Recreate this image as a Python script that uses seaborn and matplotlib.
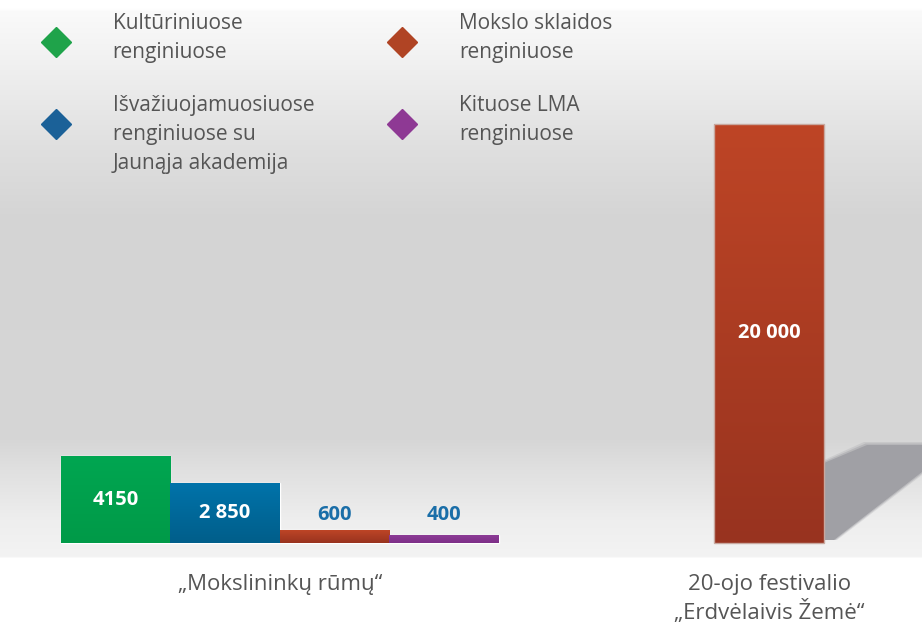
import numpy as np
import pandas as pd
import seaborn as sns
import matplotlib.pyplot as plt
from matplotlib.colors import LinearSegmentedColormap
from matplotlib.patches import Polygon
from matplotlib.lines import Line2D

# Duomenys
series = ["Kultūriniuose renginiuose",
          "Išvažiuojamuosiuose renginiuose su Jaunąja akademija",
          "Mokslo sklaidos renginiuose",
          "Kituose LMA renginiuose"]
legend_labels = ["Kultūriniuose\nrenginiuose",
                 "Išvažiuojamuosiuose\nrenginiuose su\nJaunąja akademija",
                 "Mokslo sklaidos\nrenginiuose",
                 "Kituose LMA\nrenginiuose"]
groups = ["„Mokslininkų rūmų“", "20-ojo festivalio\n„Erdvėlaivis Žemė“"]
bar_group = [0, 0, 0, 0, 1]
bar_series = [0, 1, 2, 3, 2]
bar_values = [4150, 2850, 600, 400, 20000]
value_labels = ["4150", "2 850", "600", "400", "20 000"]

# Stilius
colors = ["#00a54f", "#0070a6", "#b3401f", "#8b3a94"]
grad_top = ["#00a651", "#0073aa", "#be4526", "#8e3d98"]
grad_bot = ["#009a48", "#005e8a", "#98331f", "#7e2f88"]
legend_colors = ["#1fa34a", "#1b6198", "#b04424", "#8e3994"]
text_gray = "#555555"
value_blue = "#1a6ea8"

W, H = 922, 623
sns.set_style("white")
plt.rcParams['font.family'] = ['Open Sans', 'DejaVu Sans']

fig = plt.figure(figsize=(W / 100, H / 100), dpi=100)


def fx(px):
    return px / W


def fy(py):
    return 1 - py / H


# fonas su gradientu
bg = fig.add_axes([0, 0, 1, 1], zorder=0)
rows = np.arange(H)
keys_y = [0, 8, 11, 60, 150, 220, 440, 470, 520, 556, 558, H]
keys_v = [255, 255, 250, 241, 223, 212, 214, 224, 238, 243, 255, 255]
gray = np.interp(rows, keys_y, keys_v) / 255
bg.imshow(np.repeat(gray[:, None], 3, axis=1)[:, None, :].repeat(2, axis=1),
          aspect='auto', extent=[0, 1, 0, 1], interpolation='bilinear')
bg.set_axis_off()

ax = fig.add_axes([0, 0, 1, 1], zorder=1)
ax.patch.set_alpha(0)

# pozicijos
group_offset = [0, 5.97]
pos = []
count = {}
for g in bar_group:
    k = count.get(g, 0)
    pos.append(group_offset[g] + k)
    count[g] = k + 1

df = pd.DataFrame({"pos": pos, "value": bar_values,
                   "serie": [series[i] for i in bar_series]})

sns.barplot(data=df, x="pos", y="value", hue="serie",
            palette=dict(zip(series, colors)), hue_order=series,
            native_scale=True, dodge=False, width=1, orient="x",
            saturation=1, legend=False, ax=ax, zorder=3)

# gradientai stulpeliuose
grad = np.linspace(1, 0, 256)[:, None]
for p in list(ax.patches):
    if p.get_height() <= 0:
        continue
    xc = p.get_x() + p.get_width() / 2
    i = int(np.argmin([abs(xc - q) for q in pos]))
    s = bar_series[i]
    cmap = LinearSegmentedColormap.from_list("g", [grad_bot[s], grad_top[s]])
    im = ax.imshow(grad, cmap=cmap, aspect='auto', zorder=3.5,
                   extent=[p.get_x(), p.get_x() + p.get_width(), 0, p.get_height()])
    im.set_clip_path(p)
    if bar_values[i] > 10000:
        p.set_edgecolor("#c8a89f")
        p.set_linewidth(1.0)
        p.set_zorder(4)
        p.set_facecolor("none")

# skalė: 0 ties 543 px, 20000 ties 124 px
unit = (543 - 124) / 20000
slot = 109.5
ax.set_xlim(-115.5 / slot, (W - 115.5) / slot)
ax.set_ylim(-(H - 543) / unit, 543 / unit)
ax.set_axis_off()

# šešėlis (keli sluoksniai, kad kraštai būtų minkštesni)
for grow, alpha in [(3, 0.25), (1.5, 0.45), (0, 1.0)]:
    shadow = Polygon([(fx(824), fy(463 - grow)), (fx(867 - grow), fy(445 - grow)),
                      (fx(W), fy(445 - grow)), (fx(W), fy(472 + grow)),
                      (fx(834 + grow), fy(540)), (fx(824), fy(540))],
                     closed=True, transform=fig.transFigure,
                     facecolor="#a0a0a5", edgecolor="none", alpha=alpha)
    fig.add_artist(shadow)

# reikšmės
small = [v for v in bar_values if v < 1000]
for i, v in enumerate(bar_values):
    if v >= 1000:
        ax.text(pos[i], v / 2, value_labels[i], ha='center', va='center',
                color='white', fontsize=14.5, fontweight='bold', zorder=6)
    else:
        ax.annotate(value_labels[i], (pos[i], max(small)), xytext=(0, 11),
                    textcoords='offset points', ha='center', va='center',
                    color=value_blue, fontsize=14.5, fontweight='bold', zorder=6)

# kategorijų pavadinimai
g0 = [p for p, g in zip(pos, bar_group) if g == 0]
g1 = [p for p, g in zip(pos, bar_group) if g == 1]
for centers, label in zip([g0, g1], groups):
    ax.annotate(label, (np.mean(centers), 0), xytext=(0, -22),
                textcoords='offset points', ha='center', va='top',
                color=text_gray, fontsize=16, linespacing=1.3)

# legenda
leg_xy = [(55.5, 42), (55.5, 124), (402, 42), (402, 124)]
for (lx, ly), lab, c in zip(leg_xy, legend_labels, legend_colors):
    fig.add_artist(Line2D([fx(lx)], [fy(ly)], marker='D', markersize=15.5,
                          color=c, linestyle='none', transform=fig.transFigure))
    fig.text(fx(lx + 57), fy(ly - 29), lab, ha='left', va='top',
             color=text_gray, fontsize=15, linespacing=1.5)

fig.savefig("out.png", dpi=100)
